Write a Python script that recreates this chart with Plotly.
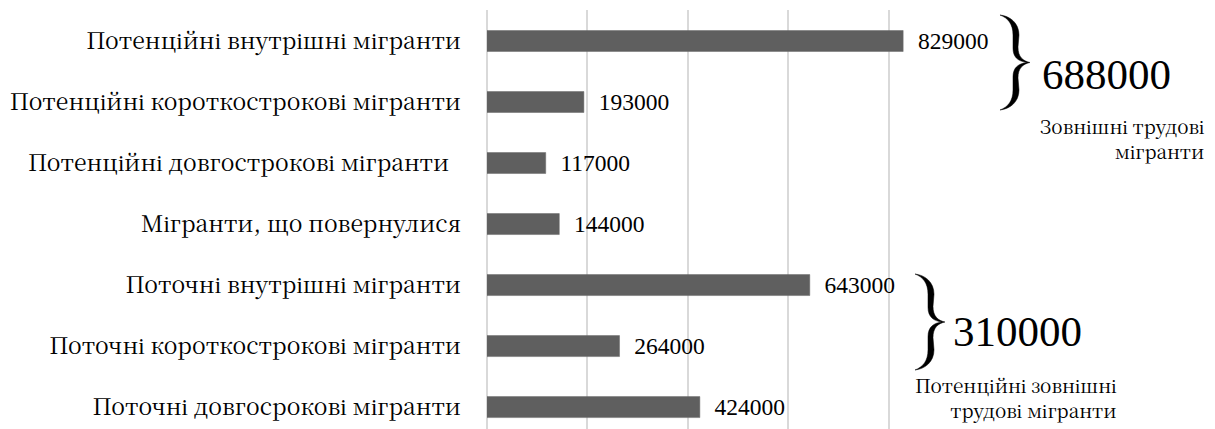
import plotly.graph_objects as go

categories = [
    "Потенційні внутрішні мігранти",
    "Потенційні короткострокові мігранти",
    "Потенційні довгострокові мігранти\u00a0\u00a0",
    "Мігранти, що повернулися",
    "Поточні внутрішні мігранти",
    "Поточні короткострокові мігранти",
    "Поточні довгосрокові мігранти",
]
values = [829000, 193000, 117000, 144000, 643000, 264000, 424000]

group_totals = [688000, 310000]
group_labels = ["Зовнішні трудові<br>мігранти", "Потенційні зовнішні<br>трудові мігранти"]

NUM_FONT = "Liberation Serif"
CYR_FONT = "Noto Serif CJK SC"
W, H = 1215, 429
OFF = 8  # page body margin
L, R, T, B = 479, 234, 2, 0


def px_x(p):
    return (p - OFF - L) / (W - L - R)


def px_y(p):
    return 1 - (p - OFF - T) / (H - T - B)


fig = go.Figure()
fig.add_trace(go.Bar(
    y=categories, x=values, orientation="h",
    width=0.344,
    marker=dict(color="#5f5f5f", line=dict(color="#6a6a6a", width=0.5)),
    text=[str(v) for v in values],
    texttemplate="\u00a0\u00a0%{text}",
    textposition="outside",
    constraintext="none",
    cliponaxis=False,
    textfont=dict(family=NUM_FONT, size=23.5, color="#000000"),
))

# curly brace outline in local pixel units (width 32, height 95)
BRACE = [
    ("M", [(2, 0)]),
    ("C", [(12, 1), (21, 8), (21, 20)]),
    ("L", [(20, 32)]),
    ("C", [(20, 42), (25, 46), (32, 47.5)]),
    ("C", [(25, 49), (20, 53), (20, 63)]),
    ("L", [(21, 75)]),
    ("C", [(21, 87), (12, 94), (2, 95)]),
    ("C", [(10, 92), (15, 86), (15, 75)]),
    ("L", [(15, 62)]),
    ("C", [(15, 52), (21, 48.5), (29, 47.5)]),
    ("C", [(21, 46.5), (15, 43), (15, 33)]),
    ("L", [(15, 20)]),
    ("C", [(15, 9), (10, 3), (2, 0)]),
]


def brace_path(x0, y0, w, h):
    parts = []
    for cmd, pts in BRACE:
        coords = " ".join(
            f"{px_x(x0 + u * w / 32):.5f},{px_y(y0 + v * h / 95):.5f}" for u, v in pts
        )
        parts.append(f"{cmd} {coords}")
    return " ".join(parts) + " Z"


brace_box = [(998, 15, 32, 95), (913, 274, 32, 96)]
total_pos = [(1040, 75), (951, 331)]
label_pos = [(1206, 138), (1119, 397)]
for (bx, by, bw, bh), (tx, ty), (lx, ly), tot, lab in zip(brace_box, total_pos, label_pos, group_totals, group_labels):
    fig.add_shape(type="path", xref="paper", yref="paper", path=brace_path(bx, by, bw, bh),
                  fillcolor="#000000", line=dict(color="#000000", width=0.5), layer="above")
    fig.add_annotation(x=px_x(tx), y=px_y(ty), xref="paper", yref="paper",
                       text=str(tot), showarrow=False, xanchor="left", yanchor="middle",
                       font=dict(family=NUM_FONT, size=43, color="#000000"))
    fig.add_annotation(x=px_x(lx), y=px_y(ly), xref="paper", yref="paper",
                       text=lab, showarrow=False, xanchor="right", yanchor="middle",
                       align="right",
                       font=dict(family=CYR_FONT, size=19, color="#000000"))

fig.update_layout(
    width=W, height=H,
    margin=dict(l=L, r=R, t=T, b=B, pad=0, autoexpand=False),
    paper_bgcolor="#ffffff", plot_bgcolor="#ffffff",
    showlegend=False,
    font=dict(family=NUM_FONT, color="#000000"),
    xaxis=dict(range=[0, 1000000], dtick=200000, showticklabels=False,
               showgrid=True, gridcolor="#d9d9d9", gridwidth=1.5,
               zeroline=True, zerolinecolor="#d9d9d9", zerolinewidth=1.5,
               showline=False, ticks="", automargin=False),
    yaxis=dict(type="category", categoryorder="array", categoryarray=categories,
               range=[6.49, -0.508], showgrid=False, zeroline=False, showline=False,
               ticks="", ticklabelstandoff=25, automargin=False,
               tickfont=dict(family=CYR_FONT, size=23, color="#000000")),
)

fig.write_html("out.html")
